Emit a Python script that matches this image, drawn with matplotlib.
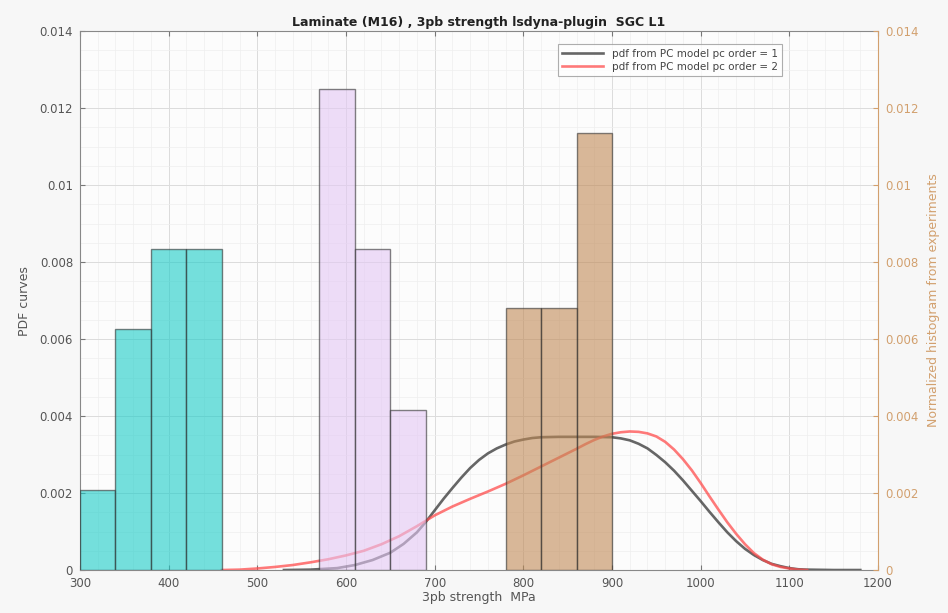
import matplotlib.pyplot as plt
from matplotlib.ticker import MultipleLocator

# histogram bins (edges) and normalized heights, per group
cyan_edges = [300, 340, 380, 420, 460]
cyan_vals = [0.00208, 0.00625, 0.00833, 0.00833]
purple_edges = [570, 610, 650, 690]
purple_vals = [0.0125, 0.00833, 0.00417]
brown_edges = [780, 820, 860, 900]
brown_vals = [0.00682, 0.00682, 0.01136]

# pdf curves
pc1_x = [530, 560, 590, 610, 630, 650, 665, 680, 690, 700, 710, 720, 730, 740, 750,
         760, 770, 780, 790, 800, 810, 820, 840, 860, 880, 900, 910, 920, 930, 940,
         950, 960, 970, 980, 990, 1000, 1010, 1020, 1030, 1040, 1050, 1060, 1070,
         1080, 1090, 1100, 1110, 1120, 1150, 1180]
pc1_y = [0, 0.00001, 0.00005, 0.00013, 0.00026, 0.00045, 0.00068, 0.00098, 0.00125,
         0.00155, 0.00185, 0.00213, 0.0024, 0.00265, 0.00286, 0.00303, 0.00316,
         0.00326, 0.00334, 0.00339, 0.00343, 0.00345, 0.00346, 0.00346, 0.00346,
         0.00345, 0.00342, 0.00337, 0.00328, 0.00316, 0.00299, 0.0028, 0.00258,
         0.00233, 0.00206, 0.00179, 0.00151, 0.00124, 0.00098, 0.00075, 0.00055,
         0.00039, 0.00026, 0.00016, 0.0001, 0.00005, 0.00002, 0.00001, 0, 0]
pc2_x = [460, 480, 500, 520, 540, 560, 580, 600, 620, 640, 660, 680, 700, 720, 740,
         760, 780, 800, 820, 840, 860, 870, 880, 890, 900, 910, 920, 930, 940, 950,
         960, 970, 980, 990, 1000, 1010, 1020, 1030, 1040, 1050, 1060, 1070, 1080,
         1090, 1100, 1110, 1120]
pc2_y = [0, 0.00001, 0.00004, 0.00008, 0.00013, 0.0002, 0.00028, 0.00038, 0.0005,
         0.00067, 0.00088, 0.00114, 0.00142, 0.00165, 0.00185, 0.00204, 0.00224,
         0.00246, 0.00269, 0.00292, 0.00315, 0.00327, 0.00338, 0.00347, 0.00354,
         0.00358, 0.0036, 0.00359, 0.00355, 0.00347, 0.00333, 0.00313, 0.00288,
         0.00259, 0.00226, 0.00191, 0.00157, 0.00124, 0.00094, 0.00067, 0.00044,
         0.00027, 0.00015, 0.00008, 0.00004, 0.00001, 0]

tan = '#d2a06e'
gray_txt = '#555555'
ticks_y = [0, 0.002, 0.004, 0.006, 0.008, 0.01, 0.012, 0.014]
labels_y = ['0', '0.002', '0.004', '0.006', '0.008', '0.01', '0.012', '0.014']

fig = plt.figure(figsize=(9.48, 6.13), dpi=100, facecolor='#f7f7f7')
ax = fig.add_axes([0.0844, 0.0701, 0.8418, 0.879])
ax.set_facecolor('#fcfcfc')

l1, = ax.plot(pc1_x, pc1_y, color='#404040', alpha=0.8, lw=1.9,
              label='pdf from PC model pc order = 1')
l2, = ax.plot(pc2_x, pc2_y, color='#ff4d4d', alpha=0.75, lw=1.9,
              label='pdf from PC model pc order = 2')

ax.set_xlim(300, 1200)
ax.set_ylim(0, 0.014)
ax.xaxis.set_major_locator(MultipleLocator(100))
ax.xaxis.set_minor_locator(MultipleLocator(20))
ax.yaxis.set_minor_locator(MultipleLocator(0.0005))
ax.set_yticks(ticks_y)
ax.set_yticklabels(labels_y)
ax.grid(which='major', color='#dcdcdc', lw=0.7)
ax.grid(which='minor', color='#eeeeee', lw=0.5)
ax.set_axisbelow(True)
ax.tick_params(which='both', top=True, direction='in', colors='#777777',
               labelcolor=gray_txt, labelsize=8.5)
ax.tick_params(axis='x', pad=5)
ax.tick_params(axis='y', pad=5)
ax.tick_params(which='minor', length=0)
for s in ['left', 'bottom', 'top']:
    ax.spines[s].set_color('#888888')
ax.spines['right'].set_visible(False)
ax.set_xlabel('3pb strength  MPa', fontsize=9, color=gray_txt, labelpad=1)
ax.set_ylabel('PDF curves', fontsize=9, color=gray_txt, labelpad=6)
ax.set_title('Laminate (M16) , 3pb strength lsdyna-plugin  SGC L1',
             fontsize=9, fontweight='bold', color='#222222', pad=4)

ax2 = ax.twinx()
for edges, vals, col in [(cyan_edges, cyan_vals, '#1accc8'),
                         (purple_edges, purple_vals, '#e4c8f5'),
                         (brown_edges, brown_vals, '#c08a55')]:
    lefts = edges[:-1]
    widths = [b - a for a, b in zip(edges[:-1], edges[1:])]
    ax2.bar(lefts, vals, width=widths, align='edge', color=col, alpha=0.6,
            edgecolor='#303030', linewidth=1.0)
ax2.set_ylim(0, 0.014)
ax2.set_yticks(ticks_y)
ax2.set_yticklabels(labels_y)
ax2.tick_params(direction='in', colors=tan, labelsize=8.5, pad=5)
ax2.spines['right'].set_color(tan)
for s in ['left', 'bottom', 'top']:
    ax2.spines[s].set_visible(False)
ax2.set_ylabel('Normalized histogram from experiments', fontsize=9, color=tan, labelpad=6)

leg = ax2.legend(handles=[l1, l2], loc='upper left', bbox_to_anchor=(0.592, 0.985),
                 fontsize=7.5, frameon=True, fancybox=False, handlelength=4,
                 borderpad=0.4, labelspacing=0.3)
leg.get_frame().set_edgecolor('#999999')
leg.get_frame().set_linewidth(0.8)
for t in leg.get_texts():
    t.set_color('#444444')

fig.savefig('out.png', dpi=100, facecolor=fig.get_facecolor())
